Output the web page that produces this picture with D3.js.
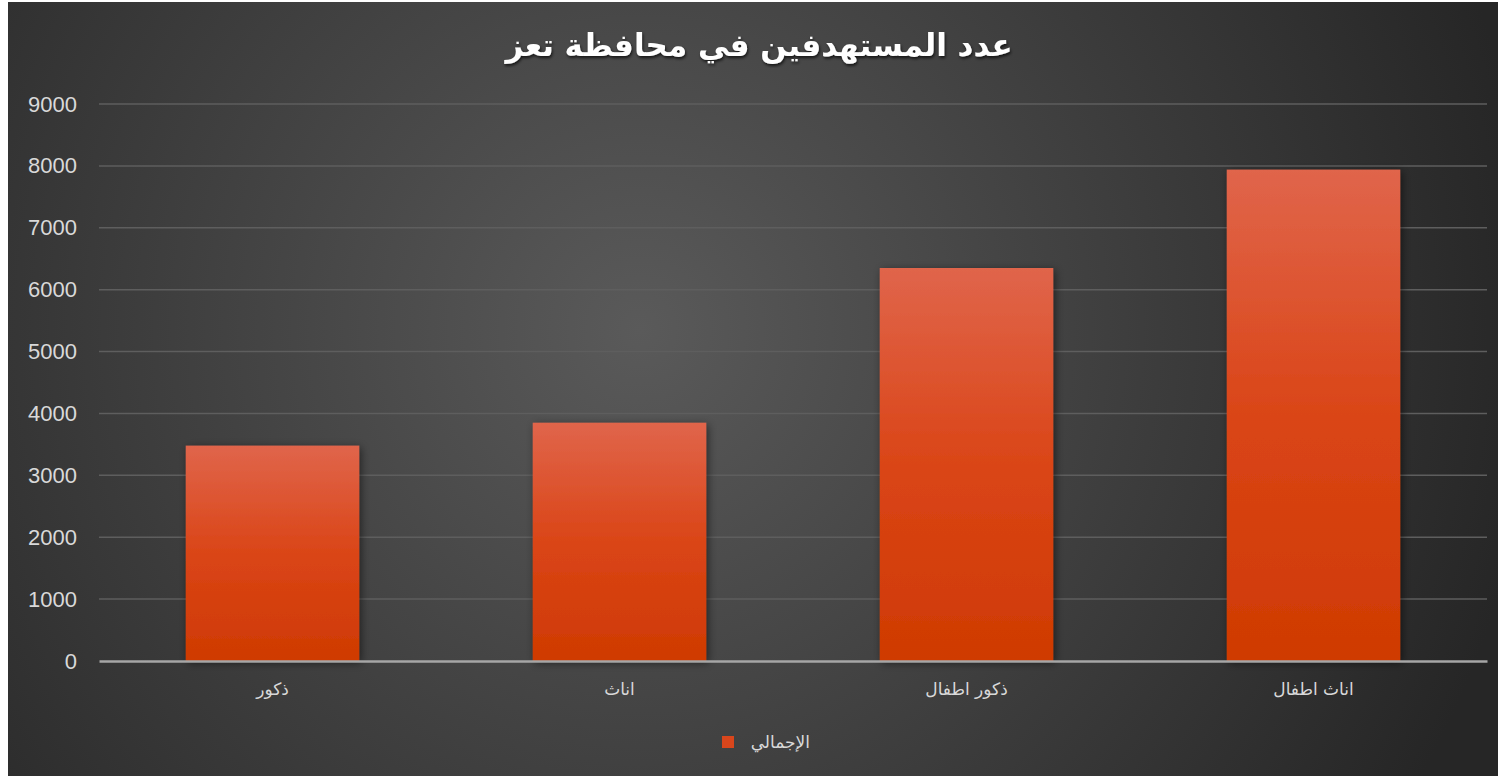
<!DOCTYPE html>
<html>
<head>
<meta charset="utf-8">
<script src="https://cdn.jsdelivr.net/npm/d3@7"></script>
<style>
  html, body { margin: 0; padding: 0; background: #ffffff; }
  svg { display: block; }
</style>
</head>
<body>
<svg id="chart" width="1498" height="776"></svg>
<script>
var categories = ['ذكور', 'اناث', 'ذكور اطفال', 'اناث اطفال'];
var values = [3480, 3850, 6350, 7940];
var yTicks = [0, 1000, 2000, 3000, 4000, 5000, 6000, 7000, 8000, 9000];
var seriesName = 'الإجمالي';
var title = 'عدد المستهدفين في محافظة تعز';

var svg = d3.select('#chart');
var defs = svg.append('defs');

var bg = defs.append('radialGradient')
  .attr('id', 'bgGrad')
  .attr('gradientUnits', 'userSpaceOnUse')
  .attr('cx', 640).attr('cy', 330).attr('r', 900);
bg.append('stop').attr('offset', '0').attr('stop-color', '#5a5a5a');
bg.append('stop').attr('offset', '1').attr('stop-color', '#262626');

var barGrad = defs.append('linearGradient')
  .attr('id', 'barGrad')
  .attr('x1', 0).attr('y1', 0).attr('x2', 0).attr('y2', 1);
barGrad.append('stop').attr('offset', '0').attr('stop-color', '#e0654b');
barGrad.append('stop').attr('offset', '0.5').attr('stop-color', '#da4517');
barGrad.append('stop').attr('offset', '1').attr('stop-color', '#cf3a02');

var shadow = defs.append('filter').attr('id', 'shadow')
  .attr('x', '-20%').attr('y', '-20%').attr('width', '140%').attr('height', '140%');
shadow.append('feDropShadow')
  .attr('dx', 2).attr('dy', 2).attr('stdDeviation', 4)
  .attr('flood-color', '#000').attr('flood-opacity', 0.5);

var titleShadow = defs.append('filter').attr('id', 'tshadow');
titleShadow.append('feDropShadow')
  .attr('dx', 1).attr('dy', 2).attr('stdDeviation', 1.5)
  .attr('flood-color', '#000').attr('flood-opacity', 0.7);

svg.append('rect')
  .attr('x', 8).attr('y', 2)
  .attr('width', 1490).attr('height', 774)
  .attr('fill', 'url(#bgGrad)');

var padding = { t: 104, r: 11, b: 115, l: 99 };
var chartWidth = 1498 - padding.l - padding.r;
var chartHeight = 776 - padding.t - padding.b;

var chartG = svg.append('g')
  .attr('transform', 'translate(' + [padding.l, padding.t] + ')');

var xScale = d3.scaleBand()
  .domain(categories)
  .range([0, chartWidth])
  .paddingInner(0.5)
  .paddingOuter(0.25);

var yScale = d3.scaleLinear()
  .domain([0, 9000])
  .range([chartHeight, 0]);

// gridlines
chartG.append('g')
  .selectAll('line')
  .data(yTicks.slice(1))
  .enter().append('line')
  .attr('x1', 0).attr('x2', chartWidth)
  .attr('y1', d => yScale(d)).attr('y2', d => yScale(d))
  .attr('stroke', '#5e5e5e')
  .attr('stroke-width', 1.5);

// y axis labels
var yAxisG = chartG.append('g')
  .call(d3.axisLeft(yScale).tickValues(yTicks).tickFormat(d3.format('d')).tickSize(0).tickPadding(22));
yAxisG.select('.domain').remove();
yAxisG.selectAll('text')
  .attr('fill', '#d9d9d9')
  .style('font-family', '"Liberation Sans", Arial, sans-serif')
  .style('font-size', '22px');

// bars
chartG.selectAll('.bar')
  .data(values)
  .enter().append('rect')
  .attr('class', 'bar')
  .attr('x', (d, i) => xScale(categories[i]))
  .attr('y', d => yScale(d))
  .attr('width', xScale.bandwidth())
  .attr('height', d => chartHeight - yScale(d))
  .attr('fill', 'url(#barGrad)')
  .attr('filter', 'url(#shadow)');

// x axis
var xAxisG = chartG.append('g')
  .attr('transform', 'translate(0,' + chartHeight + ')')
  .call(d3.axisBottom(xScale).tickSize(0).tickPadding(22));
xAxisG.select('.domain')
  .attr('stroke', '#a6a6a6')
  .attr('stroke-width', 2.5);
xAxisG.selectAll('text')
  .attr('fill', '#d9d9d9')
  .style('font-family', '"DejaVu Sans", sans-serif')
  .style('font-size', '17px');

// title
svg.append('text')
  .attr('x', 759).attr('y', 56)
  .attr('text-anchor', 'middle')
  .attr('fill', '#ffffff')
  .attr('filter', 'url(#tshadow)')
  .style('font-family', '"DejaVu Sans", sans-serif')
  .style('font-weight', 'bold')
  .style('font-size', '31px')
  .text(title);

// legend
var legendG = svg.append('g').attr('transform', 'translate(722,736)');
legendG.append('rect')
  .attr('x', 0).attr('y', 0)
  .attr('width', 12).attr('height', 12)
  .attr('fill', '#d9461c');
legendG.append('text')
  .attr('x', 88).attr('y', 12)
  .attr('text-anchor', 'end')
  .attr('fill', '#d9d9d9')
  .style('font-family', '"DejaVu Sans", sans-serif')
  .style('font-size', '17px')
  .text(seriesName);
</script>
</body>
</html>
